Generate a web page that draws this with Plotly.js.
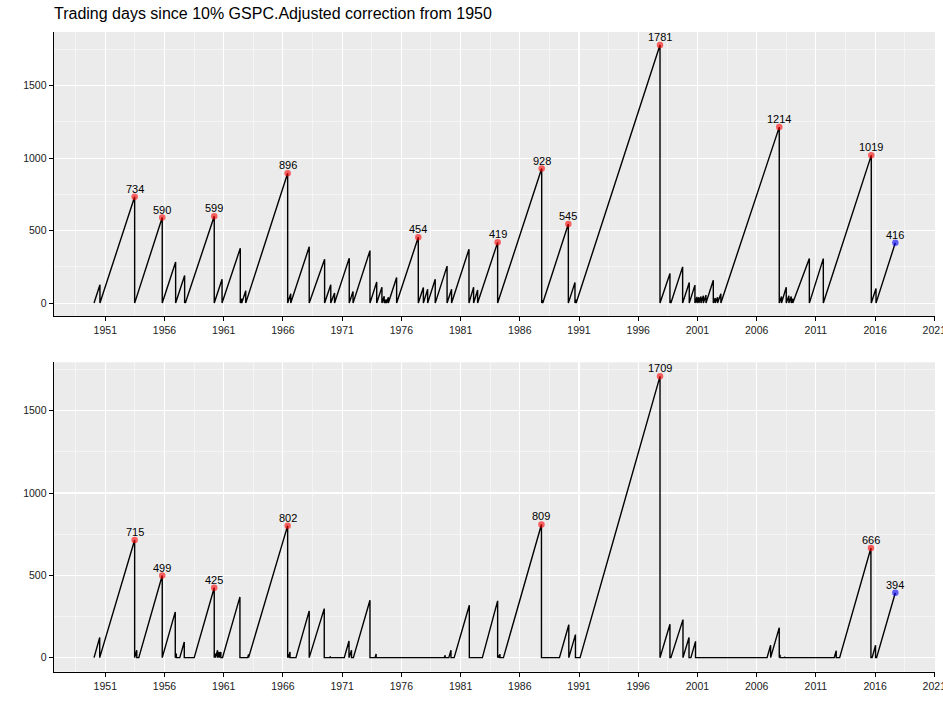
<!DOCTYPE html>
<html>
<head>
<meta charset="utf-8">
<script src="https://cdn.plot.ly/plotly-2.35.2.min.js"></script>
<style>
  html, body { margin: 0; padding: 0; background: #fff; }
  #chart { width: 943px; height: 710px; }
</style>
</head>
<body>
<div id="chart"></div>
<script>
// top panel: trading days since a 10% correction (vertices of the sawtooth)
var topYears = [
  1950.05, 1950.55, 1950.55, 1953.48, 1953.48, 1955.81, 1955.81, 1956.94, 1956.94, 1957.70,
  1957.70, 1957.76, 1957.76, 1960.20, 1960.20, 1960.86, 1960.86, 1962.40, 1962.40, 1962.52,
  1962.52, 1962.86, 1962.86, 1966.40, 1966.40, 1966.66, 1966.66, 1968.22, 1968.22, 1969.52,
  1969.52, 1970.04, 1970.04, 1970.36, 1970.36, 1971.60, 1971.60, 1971.92, 1971.92, 1973.35,
  1973.35, 1973.92, 1973.92, 1974.36, 1974.36, 1974.55, 1974.55, 1974.65, 1974.65, 1974.75,
  1974.75, 1974.90, 1974.90, 1975.60, 1975.60, 1977.43, 1977.43, 1977.86, 1977.86, 1978.22,
  1978.22, 1978.86, 1978.86, 1979.86, 1979.86, 1980.24, 1980.24, 1981.71, 1981.71, 1982.10,
  1982.10, 1982.44, 1982.44, 1984.13, 1984.13, 1987.85, 1987.85, 1987.94, 1987.94, 1990.10,
  1990.10, 1990.66, 1990.66, 1990.76, 1990.76, 1997.84, 1997.84, 1998.68, 1998.68, 1998.76,
  1998.76, 1999.75, 1999.75, 2000.31, 2000.31, 2000.79, 2000.79, 2000.96, 2000.96, 2001.12,
  2001.12, 2001.30, 2001.30, 2001.50, 2001.50, 2001.72, 2001.72, 2002.34, 2002.34, 2002.50,
  2002.50, 2002.70, 2002.70, 2002.98, 2002.98, 2007.91, 2007.91, 2008.10, 2008.10, 2008.50,
  2008.50, 2008.72, 2008.72, 2008.92, 2008.92, 2009.05, 2009.05, 2010.45, 2010.45, 2011.63,
  2011.63, 2015.68, 2015.68, 2016.08, 2016.08, 2017.71
];
var topDays = [
  0, 126, 0, 734, 0, 590, 0, 284, 0, 190,
  0, 15, 0, 599, 0, 165, 0, 378, 0, 30,
  0, 85, 0, 896, 0, 65, 0, 388, 0, 303,
  0, 126, 0, 70, 0, 310, 0, 80, 0, 362,
  0, 145, 0, 110, 0, 48, 0, 25, 0, 25,
  0, 40, 0, 177, 0, 454, 0, 108, 0, 96,
  0, 165, 0, 255, 0, 96, 0, 372, 0, 110,
  0, 90, 0, 419, 0, 928, 0, 22, 0, 545,
  0, 142, 0, 25, 0, 1781, 0, 204, 0, 20,
  0, 250, 0, 142, 0, 124, 0, 43, 0, 40,
  0, 45, 0, 50, 0, 55, 0, 158, 0, 35,
  0, 40, 0, 65, 0, 1214, 0, 45, 0, 110,
  0, 50, 0, 45, 0, 30, 0, 307, 0, 307,
  0, 1019, 0, 101, 0, 416
];
var topPeakYears = [1953.48, 1955.81, 1960.20, 1966.40, 1977.43, 1984.13, 1987.85, 1990.10, 1997.84, 2007.91, 2015.68];
var topPeakDays = [734, 590, 599, 896, 454, 419, 928, 545, 1781, 1214, 1019];
var topNowYear = [2017.71];
var topNowDays = [416];

// bottom panel
var botYears = [
  1950.05, 1950.53, 1950.53, 1953.48, 1953.48, 1953.66, 1953.66, 1953.83, 1955.81, 1955.81,
  1956.91, 1956.91, 1957.00, 1957.00, 1957.29, 1957.67, 1957.67, 1958.51, 1960.20, 1960.20,
  1960.30, 1960.30, 1960.48, 1960.48, 1960.62, 1960.62, 1960.76, 1960.76, 1960.90, 1962.37,
  1962.37, 1963.02, 1963.10, 1963.10, 1966.40, 1966.40, 1966.48, 1966.48, 1966.60, 1966.60,
  1967.10, 1968.22, 1968.22, 1969.49, 1969.49, 1969.97, 1970.00, 1970.00, 1971.18, 1971.58,
  1971.58, 1971.79, 1971.79, 1971.95, 1973.35, 1973.35, 1973.78, 1973.87, 1973.87, 1979.62,
  1979.70, 1979.70, 1980.01, 1980.19, 1980.19, 1980.46, 1981.74, 1981.74, 1982.84, 1984.13,
  1984.13, 1984.20, 1984.20, 1984.33, 1984.33, 1984.62, 1987.83, 1987.83, 1989.35, 1990.14,
  1990.14, 1990.70, 1990.70, 1991.09, 1997.84, 1997.84, 1998.68, 1998.68, 1998.76, 1999.78,
  1999.78, 2000.29, 2000.29, 2000.45, 2000.84, 2000.84, 2006.88, 2007.18, 2007.18, 2007.91,
  2007.91, 2007.98, 2007.98, 2008.35, 2008.38, 2008.38, 2012.55, 2012.72, 2012.72, 2013.01,
  2015.65, 2015.65, 2015.75, 2016.04, 2016.04, 2016.13, 2017.71
];
var botDays = [
  0, 122, 0, 715, 0, 45, 0, 0, 499, 0,
  278, 0, 25, 0, 0, 95, 0, 0, 425, 0,
  25, 0, 45, 0, 35, 0, 35, 0, 0, 369,
  0, 0, 20, 0, 802, 0, 20, 0, 35, 0,
  0, 284, 0, 298, 0, 0, 8, 0, 0, 101,
  0, 45, 0, 0, 349, 0, 0, 22, 0, 0,
  14, 0, 0, 45, 0, 0, 318, 0, 0, 345,
  0, 15, 0, 20, 0, 0, 809, 0, 0, 200,
  0, 140, 0, 0, 1709, 0, 203, 0, 0, 231,
  0, 122, 0, 0, 99, 0, 0, 75, 0, 182,
  0, 18, 0, 0, 5, 0, 0, 42, 0, 0,
  666, 0, 0, 75, 0, 0, 394
];
var botPeakYears = [1953.48, 1955.81, 1960.20, 1966.40, 1987.83, 1997.84, 2015.65];
var botPeakDays = [715, 499, 425, 802, 809, 1709, 666];
var botNowYear = [2017.71];
var botNowDays = [394];

var yearTicks = [1951, 1956, 1961, 1966, 1971, 1976, 1981, 1986, 1991, 1996, 2001, 2006, 2011, 2016, 2021];

var bg = "#EBEBEB";
var fam = "Liberation Sans, Arial, sans-serif";

function xAxis(anchor) {
  return {
    anchor: anchor,
    domain: [54 / 943, 935 / 943],
    range: [1946.67, 2021.06],
    tickmode: "array",
    tickvals: yearTicks,
    ticktext: yearTicks.map(String),
    ticklabeloverflow: "allow",
    ticks: "outside", ticklen: 4, tickwidth: 1, tickcolor: "#000",
    showline: true, linecolor: "#000", linewidth: 1.4,
    showgrid: true, gridcolor: "#fff", gridwidth: 1.1,
    minor: {tickmode: "linear", tick0: 1948.5, dtick: 5, showgrid: true, gridcolor: "#fff", gridwidth: 0.5, ticks: ""},
    zeroline: false,
    tickfont: {family: fam, size: 10.5, color: "#1a1a1a"},
    fixedrange: true
  };
}
function yAxis(anchor, dom, top) {
  return {
    anchor: anchor,
    domain: dom,
    range: [-0.05 * top, 1.05 * top],
    tickmode: "linear", tick0: 0, dtick: 500,
    ticks: "outside", ticklen: 4, tickwidth: 1, tickcolor: "#000",
    showline: true, linecolor: "#000", linewidth: 1.4,
    showgrid: true, gridcolor: "#fff", gridwidth: 1.1,
    minor: {tickmode: "linear", tick0: 250, dtick: 500, showgrid: true, gridcolor: "#fff", gridwidth: 0.5, ticks: ""},
    zeroline: false,
    tickfont: {family: fam, size: 10.5, color: "#1a1a1a"},
    fixedrange: true
  };
}

function lineTrace(x, y, xa, ya) {
  return {x: x, y: y, xaxis: xa, yaxis: ya, type: "scatter", mode: "lines",
          line: {color: "#000", width: 1.4}, hoverinfo: "skip"};
}
function pointTrace(x, y, xa, ya, col) {
  return {x: x, y: y, xaxis: xa, yaxis: ya, type: "scatter", mode: "markers",
          marker: {color: col, size: 6.5}, cliponaxis: false, hoverinfo: "skip"};
}
function labels(x, y, xa, ya) {
  return x.map(function (xv, i) {
    return {x: xv, y: y[i], xref: xa, yref: ya, text: String(y[i]), showarrow: false,
            xanchor: "center", yanchor: "middle", yshift: 8,
            font: {family: fam, size: 11, color: "#000"}};
  });
}

var traces = [
  lineTrace(topYears, topDays, "x", "y"),
  pointTrace(topPeakYears, topPeakDays, "x", "y", "rgba(255,0,0,0.6)"),
  pointTrace(topNowYear, topNowDays, "x", "y", "rgba(0,0,255,0.6)"),
  lineTrace(botYears, botDays, "x2", "y2"),
  pointTrace(botPeakYears, botPeakDays, "x2", "y2", "rgba(255,0,0,0.6)"),
  pointTrace(botNowYear, botNowDays, "x2", "y2", "rgba(0,0,255,0.6)")
];

var annotations = [].concat(
  labels(topPeakYears, topPeakDays, "x", "y"),
  labels(topNowYear, topNowDays, "x", "y"),
  labels(botPeakYears, botPeakDays, "x2", "y2"),
  labels(botNowYear, botNowDays, "x2", "y2")
);

var layout = {
  width: 943, height: 710,
  margin: {l: 0, r: 0, t: 0, b: 0},
  paper_bgcolor: "#fff",
  plot_bgcolor: bg,
  showlegend: false,
  title: {text: "Trading days since 10% GSPC.Adjusted correction from 1950",
          x: 54 / 943, xanchor: "left", y: 1 - 13 / 710, yanchor: "middle",
          font: {family: fam, size: 16, color: "#000"}},
  annotations: annotations,
  xaxis: xAxis("y"),
  yaxis: yAxis("x", [1 - 316 / 710, 1 - 32 / 710], Math.max.apply(null, topDays)),
  xaxis2: xAxis("y2"),
  yaxis2: yAxis("x2", [1 - 671.7 / 710, 1 - 362.3 / 710], Math.max.apply(null, botDays))
};

Plotly.newPlot(document.getElementById("chart"), traces, layout, {displayModeBar: false, staticPlot: true});
</script>
</body>
</html>
